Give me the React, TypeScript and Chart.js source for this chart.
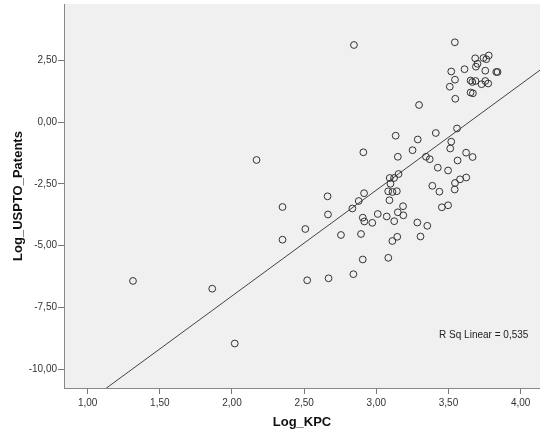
import React, { useEffect, useRef } from "react";
import { Chart, registerables } from "chart.js";

Chart.register(...registerables);

const LOG_KPC = [
  1.314, 1.863, 2.019, 2.170, 2.350, 2.350, 2.508, 2.521, 2.662, 2.665,
  2.669, 2.755, 2.834, 2.841, 2.845, 2.878, 2.894, 2.906, 2.917, 2.906,
  2.910, 2.915, 2.972, 3.010, 3.072, 3.082, 3.083, 3.091, 3.093, 3.098,
  3.112, 3.111, 3.123, 3.124, 3.134, 3.142, 3.145, 3.149, 3.154, 3.149,
  3.185, 3.187, 3.251, 3.287, 3.284, 3.296, 3.306, 3.344, 3.370, 3.353,
  3.388, 3.412, 3.426, 3.437, 3.454, 3.497, 3.497, 3.509, 3.512, 3.519,
  3.519, 3.545, 3.547, 3.544, 3.545, 3.543, 3.559, 3.563, 3.580, 3.611,
  3.622, 3.623, 3.653, 3.665, 3.653, 3.669, 3.667, 3.685, 3.701, 3.690,
  3.687, 3.729, 3.742, 3.762, 3.779, 3.755, 3.755, 3.775, 3.831, 3.840,
];

const LOG_USPTO_PATENTS = [
  -6.430, -6.745, -8.966, -1.528, -3.433, -4.759, -4.325, -6.404, -3.000, -3.737,
  -6.323, -4.568, -3.494, -6.157, 3.133, -3.190, -4.528, -3.867, -4.021, -5.561,
  -1.216, -2.874, -4.074, -3.717, -3.818, -2.797, -5.493, -3.158, -2.258, -2.493,
  -2.825, -4.812, -2.258, -4.009, -0.543, -2.793, -4.641, -1.398, -2.096, -3.648,
  -3.401, -3.770, -1.131, -0.697, -4.062, 0.701, -4.629, -1.398, -1.496, -4.195,
  -2.574, -0.434, -1.840, -2.813, -3.445, -1.954, -3.364, 1.443, -1.062, -0.786,
  2.059, 1.727, 0.953, 3.243, -2.460, -2.724, -0.251, -1.548, -2.311, 2.152,
  -1.232, -2.238, 1.694, 1.634, 1.208, 1.176, -1.407, 2.594, 2.371, 2.254,
  1.674, 1.544, 2.606, 2.558, 2.708, 2.092, 1.674, 1.573, 2.039, 2.039,
];

const X_TICKS = [1, 1.5, 2, 2.5, 3, 3.5, 4];
const Y_TICKS = [-10, -7.5, -5, -2.5, 0, 2.5];
const X_RANGE = [0.836, 4.134];
const Y_RANGE = [-10.77, 4.795];
const FIT_INTERCEPT = -15.62;
const FIT_SLOPE = 4.29;
const R_SQ_LABEL = "R Sq Linear = 0,535";
const X_TITLE = "Log_KPC";
const Y_TITLE = "Log_USPTO_Patents";

const FONT = "'Liberation Sans', Arial, sans-serif";
const fmt = (v: number) => v.toFixed(2).replace(".", ",");

export default function App() {
  const ref = useRef<HTMLCanvasElement | null>(null);

  useEffect(() => {
    document.body.style.margin = "0";
    const canvas = ref.current;
    if (!canvas) return;

    const points = LOG_KPC.map((x, i) => ({ x, y: LOG_USPTO_PATENTS[i] }));
    const fitLine = X_RANGE.map((x) => ({ x, y: FIT_INTERCEPT + FIT_SLOPE * x }));

    const bgPlugin = {
      id: "plotBg",
      beforeDraw(chart: any) {
        const { ctx, chartArea } = chart;
        ctx.save();
        ctx.fillStyle = "#f0f0f0";
        ctx.fillRect(chartArea.left, chartArea.top, chartArea.right - chartArea.left, chartArea.bottom - chartArea.top);
        ctx.restore();
      },
      afterDraw(chart: any) {
        const { ctx } = chart;
        const xs = chart.scales.x;
        const ys = chart.scales.y;
        ctx.save();
        ctx.fillStyle = "#222";
        ctx.font = `10px ${FONT}`;
        ctx.textAlign = "left";
        ctx.textBaseline = "middle";
        ctx.fillText(R_SQ_LABEL, xs.getPixelForValue(3.435), ys.getPixelForValue(-8.65));
        ctx.restore();
      },
    };

    const chart = new Chart(canvas, {
      type: "scatter",
      data: {
        datasets: [
          {
            type: "line",
            data: fitLine,
            borderColor: "#444",
            borderWidth: 1,
            pointRadius: 0,
            fill: false,
            order: 2,
          } as any,
          {
            data: points,
            pointRadius: 3.4,
            pointBorderWidth: 1,
            pointBorderColor: "#333",
            pointBackgroundColor: "rgba(0,0,0,0)",
            order: 1,
          },
        ],
      },
      options: {
        animation: false,
        responsive: true,
        maintainAspectRatio: false,
        layout: { autoPadding: false, padding: { left: 0, right: 0, top: 4, bottom: 0 } },
        plugins: { legend: { display: false }, tooltip: { enabled: false } },
        scales: {
          x: {
            type: "linear",
            min: X_RANGE[0],
            max: X_RANGE[1],
            afterBuildTicks: (s: any) => {
              s.ticks = X_TICKS.map((value) => ({ value }));
            },
            afterFit: (s: any) => {
              s.height = 50;
              s.paddingLeft = 0;
              s.paddingRight = 0;
            },
            ticks: {
              callback: (v: any) => fmt(Number(v)),
              color: "#333",
              font: { family: FONT, size: 10 },
              padding: 3,
              maxRotation: 0,
            },
            grid: { drawOnChartArea: false, drawTicks: true, tickLength: 6, color: "#777" },
            border: { display: true, color: "#888" },
            title: {
              display: true,
              text: X_TITLE,
              color: "#111",
              font: { family: FONT, size: 13, weight: "bold" },
              padding: { top: 0, bottom: 8 },
            },
          },
          y: {
            type: "linear",
            min: Y_RANGE[0],
            max: Y_RANGE[1],
            afterBuildTicks: (s: any) => {
              s.ticks = Y_TICKS.map((value) => ({ value }));
            },
            afterFit: (s: any) => {
              s.width = 64;
              s.paddingTop = 0;
              s.paddingBottom = 0;
            },
            ticks: {
              callback: (v: any) => fmt(Number(v)),
              color: "#333",
              font: { family: FONT, size: 10 },
              padding: 1,
            },
            grid: { drawOnChartArea: false, drawTicks: true, tickLength: 6, color: "#777" },
            border: { display: true, color: "#888" },
            title: {
              display: true,
              text: Y_TITLE,
              color: "#111",
              font: { family: FONT, size: 13, weight: "bold" },
              padding: { top: 11, bottom: 0 },
            },
          },
        },
      },
      plugins: [bgPlugin],
    });

    return () => chart.destroy();
  }, []);

  return (
    <div style={{ width: 540, height: 438, position: "relative" }}>
      <canvas ref={ref} />
    </div>
  );
}
